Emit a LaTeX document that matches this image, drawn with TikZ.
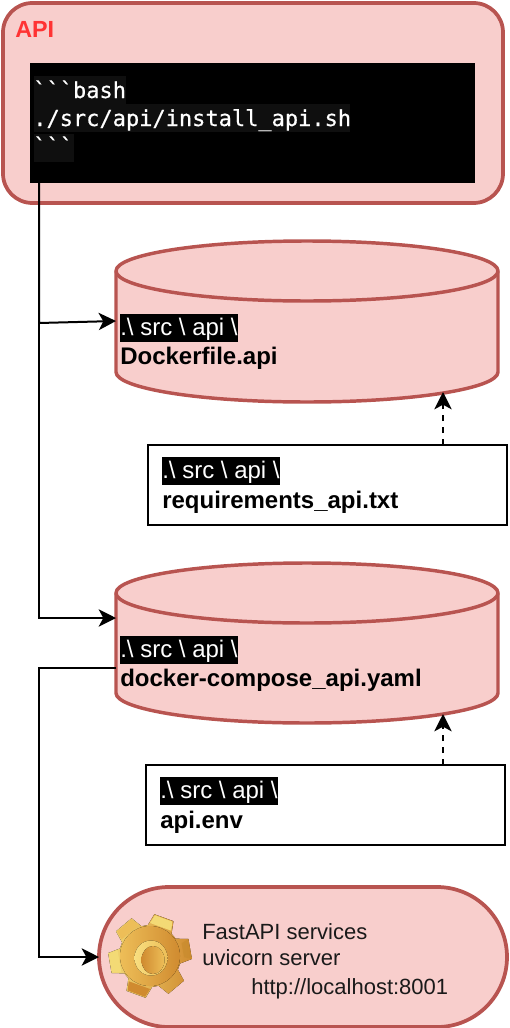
\documentclass[tikz,border=0pt]{standalone}
\usepackage{fontspec}
\setmainfont{Liberation Sans}
\newfontfamily\codefont[FakeBold=0.5]{DejaVu Sans Mono}
\usetikzlibrary{arrows.meta,shapes.misc}
\definecolor{pinkfill}{HTML}{F8CECC}
\definecolor{redline}{HTML}{B85450}
\definecolor{apired}{HTML}{FF3333}
\definecolor{codebg}{HTML}{0F0F0F}
\definecolor{darktext}{HTML}{1A1A1A}
\definecolor{goldA}{HTML}{F8DF80}
\definecolor{goldB}{HTML}{EDBE58}
\definecolor{goldC}{HTML}{D08B30}
\definecolor{goldD}{HTML}{C68A2C}
\definecolor{goldE}{HTML}{F3DA75}
\newcommand{\bsl}{\textbackslash}
\newcommand{\cylpath}[3]{% x-left, y-top, y-bottom ; x-right 498, ry 30
  \path[cylshape] (#1,#2+30) arc[start angle=180,end angle=0,x radius=191,y radius=-30]
    -- (#1+382,#3-30) arc[start angle=0,end angle=-180,x radius=191,y radius=-30] -- cycle;
  \draw[cylline] (#1,#2+30) arc[start angle=180,end angle=360,x radius=191,y radius=-30];
}
\newcommand{\gearshape}[2]{%
  (26:#1)
  \foreach \k in {0,60,...,300}{
    -- (50+\k-24:#1) -- (50+\k-14:#2) -- (50+\k+14:#2) -- (50+\k+24:#1)
  } -- cycle
}
\tikzset{
  x=0.75pt,y=-0.75pt,
  cylshape/.style={fill=pinkfill,draw=redline,line width=2.6pt,line join=round},
  cylline/.style={draw=redline,line width=2.6pt},
  region/.style={draw=redline,fill=pinkfill,line width=2.8pt,rounded corners=22pt,inner sep=0pt},
  ghost/.style={inner sep=0pt,outer sep=0pt,minimum width=#1},
  link/.style={draw=black,line width=1.5pt,-{Stealth[length=13pt,width=13pt,inset=3.5pt]}},
  dlink/.style={link,dash pattern=on 4.5pt off 4.5pt},
  filebox/.style={draw=black,fill=white,line width=1.5pt,inner sep=0pt,minimum width=269pt,minimum height=60pt},
  labeltext/.style={anchor=base west,inner sep=0pt,font=\fontsize{18}{21}\selectfont\bfseries},
  pathtext/.style={anchor=base west,font=\fontsize{18}{21}\selectfont,text=white,fill=black,inner xsep=0pt,inner ysep=0pt,text height=15.5pt,text depth=5.5pt},
  svctext/.style={anchor=base west,inner sep=0pt,text=darktext,font=\fontsize{16.5}{20}\selectfont},
  codehl/.style={fill=codebg,draw=none},
  codetext/.style={anchor=base west,inner sep=0pt,text=white,font=\fontsize{16.5}{20}\selectfont\codefont}
}
\begin{document}
\begin{tikzpicture}
\useasboundingbox (0,0) rectangle (510,1028);
% API container
\node[region,minimum width=375pt,minimum height=150pt] (api) at (253,103) {};
\node[anchor=base west,inner sep=0pt,text=apired,font=\fontsize{17.5}{21}\selectfont\bfseries] (apititle) at (15,37) {API};
\node[fill=black,inner sep=0pt,minimum width=333.5pt,minimum height=90pt] (code) at (252.75,123) {};
\path[codehl] (34,76) rectangle (126,104);
\path[codehl] (34,104) rectangle (350,132);
\path[codehl] (34,134) rectangle (74,162);
\node[codetext] (c1) at (33,98) {```bash};
\node[codetext] (c2) at (33,126) {./src/api/install\_api.sh};
\node[codetext] (c3) at (33,154) {```};
% Cylinders
\cylpath{116}{241}{402}
\node[ghost=286.5pt,minimum height=120pt] (dockerfile) at (307,321.5) {};
\cylpath{116}{563}{723}
\node[ghost=286.5pt,minimum height=120pt] (compose) at (307,643) {};
\node[pathtext] (df1) at (120,335) {.\bsl{} src \bsl{} api \bsl};
\node[labeltext] (df2) at (120,364) {Dockerfile.api};
\node[pathtext] (dc1) at (120,657) {.\bsl{} src \bsl{} api \bsl};
\node[labeltext] (dc2) at (120,686) {docker-compose\_api.yaml};
% File boxes
\node[filebox] (reqbox) at (327.5,485) {};
\node[pathtext] (r1) at (162,478) {.\bsl{} src \bsl{} api \bsl};
\node[labeltext] (r2) at (162,508) {requirements\_api.txt};
\node[filebox] (envbox) at (325.5,805) {};
\node[pathtext] (e1) at (160,798) {.\bsl{} src \bsl{} api \bsl};
\node[labeltext] (e2) at (160,828) {api.env};
% Service pill
\node[draw=redline,fill=pinkfill,line width=2.8pt,rounded rectangle,inner sep=0pt,minimum width=306pt,minimum height=105pt] (svc) at (303,957) {};
\node[svctext] (s1) at (202,939) {FastAPI services};
\node[svctext] (s2) at (202,965) {uvicorn server};
\node[svctext] (s3) at (251,994) {http://localhost:8001};
% Gear
\node[inner sep=0pt,minimum size=63pt] (gear) at (150,956) {};
\begin{scope}[shift={(gear.center)}]
  \fill[left color=goldE,right color=goldC] \gearshape{31}{42};
  \foreach \a/\c in {230/goldB,290/goldE,170/goldE,110/goldC}{
    \fill[\c] (\a-20:33) -- (\a-13:41) -- (\a+13:41) -- (\a+20:33) -- cycle;
  }
  \fill[goldD,opacity=.55] (350-14:42) -- (350+14:42) -- (350+12:34) -- (350-12:34) -- cycle;
  \fill[left color=goldB,right color=goldC] (0,0) ellipse (30 and 30);
  \fill[left color=goldA,right color=goldB] (1,2) ellipse (16.5 and 17.5);
  \fill[left color=goldC,right color=goldB] (3,4) ellipse (11.5 and 14);
\end{scope}
% Connectors
\coordinate (start) at (39,183);
\coordinate (bend1) at (39,323);
\coordinate (bend2) at (39,618);
\coordinate (t1) at (116,321);
\coordinate (t2) at (116,618);
\coordinate (out) at (116,668);
\coordinate (b3a) at (39,668);
\coordinate (b3b) at (39,957);
\coordinate (t3) at (99,957);
\draw[link] (start) -- (bend1) -- (t1);
\draw[link] (start) -- (bend2) -- (t2);
\draw[link] (out) -- (b3a) -- (b3b) -- (t3);
\coordinate (a1) at (443,445);
\coordinate (a2) at (443,392);
\coordinate (a3) at (443,765);
\coordinate (a4) at (443,714);
\draw[dlink] (a1) -- (a2);
\draw[dlink] (a3) -- (a4);
\end{tikzpicture}
\end{document}
